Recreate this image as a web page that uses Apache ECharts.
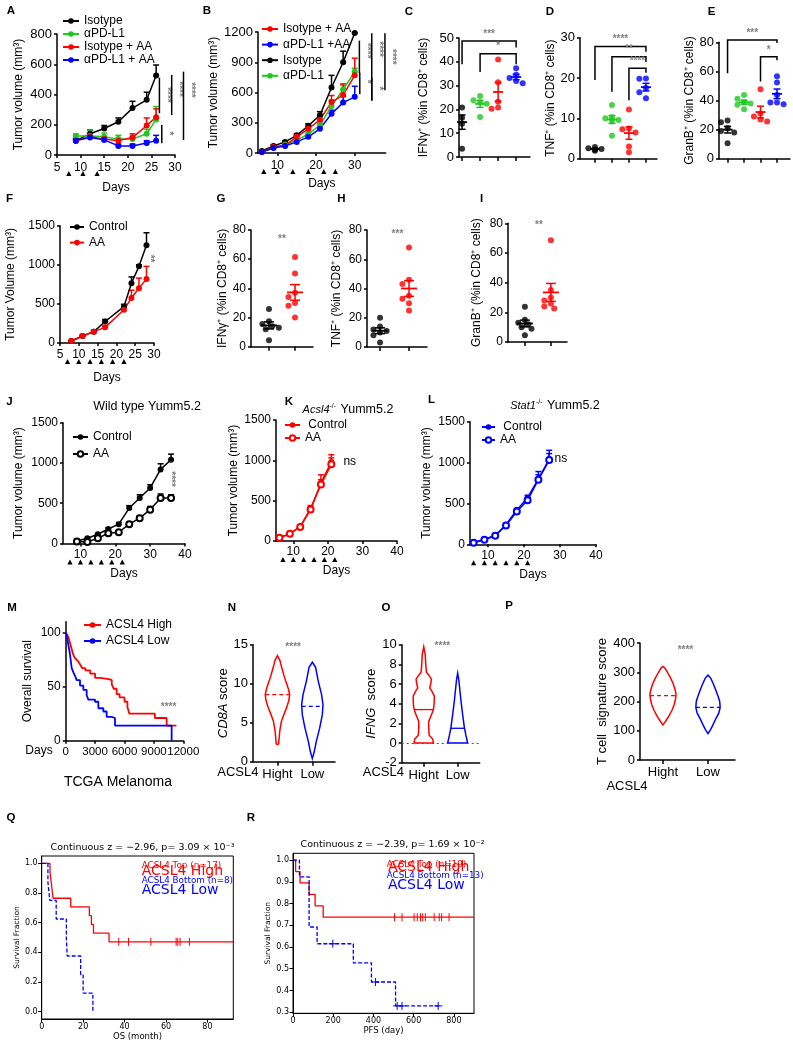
<!DOCTYPE html>
<html><head><meta charset="utf-8">
<script src="https://cdn.jsdelivr.net/npm/echarts@6.0.0/dist/echarts.min.js"></script>
<style>html,body{margin:0;padding:0;background:#fff;}#chart{width:793px;height:1050px;}</style>
</head><body><div id="chart"></div>
<script>
// ================= DATA =================
// Panel A
const aDays = [9, 12, 15, 18, 21, 24, 26];
const aIsotype = [95, 140, 175, 220, 310, 365, 525];
const aIsotypeErr = [12, 25, 20, 25, 45, 50, 70];
const aPDL1 = [125, 125, 120, 105, 105, 140, 235];
const aPDL1Err = [15, 40, 25, 25, 15, 30, 85];
const aIsoAA = [95, 120, 105, 95, 115, 195, 250];
const aIsoAAErr = [15, 15, 10, 15, 25, 50, 55];
const aPDL1AA = [95, 115, 100, 60, 60, 80, 95];
const aPDL1AAErr = [10, 10, 15, 12, 12, 15, 35];
const aTreat = [7.5, 10.5, 13.5];
const aSig = [[26.7, 276, 511, 397], [29.3, 264, 529, 436], [31.8, 99, 551, 430], [27.2, 77, 198, 143]];
const aSigLabels = ['****', '****', '****', '*'];
// Panel B
const bDays = [6, 9, 12, 15, 18, 21, 24, 27, 30];
const bIsotype = [20, 70, 110, 175, 270, 375, 650, 900, 1190];
const bIsotypeErr = [5, 10, 10, 15, 20, 35, 120, 110, 0];
const bIsoAA = [10, 60, 75, 160, 240, 330, 505, 575, 770];
const bIsoAAErr = [5, 5, 10, 15, 20, 30, 65, 110, 170];
const bPDL1AA = [10, 50, 70, 110, 160, 240, 390, 500, 557];
const bPDL1AAErr = [5, 5, 10, 10, 15, 20, 35, 60, 105];
const bPDL1 = [10, 55, 85, 125, 190, 275, 465, 630, 805];
const bPDL1Err = [5, 5, 10, 10, 15, 20, 60, 40, 35];
const bTreat = [6.5, 10, 14, 18, 22, 25];
const bSig = [[31.2, 789, 1114, 1014], [34.4, 524, 1187, 1031], [37.8, 623, 1187, 954], [31.3, 583, 795, 706], [34.4, 517, 749, 640]];
const bSigLabels = ['****', '****', '****', '*', '*'];
// Panels C, D, E (four groups: Isotype, αPD-L1, Isotype + AA, αPD-L1 + AA)
const cIFNg = [[20.8, 18.5, 16.5, 14, 3.5], [25.6, 23.8, 23, 22.4, 16.8], [41, 31.4, 23.2, 20.8, 20.3], [37.3, 34.6, 33.2, 31.9, 31]];
const cBrackets = [[1, 4, 48.7, 39, 46], [2, 4, 43.4, 35.7, 39]];
const cBracketLabels = ['***', '*'];
const dTNF = [[2.9, 2.6, 2.4, 2.2, 2.0], [13.3, 10.3, 10, 9.6, 9.5, 5.7], [12.2, 7.5, 7.3, 6.5, 3, 1.6], [19.9, 19.8, 17.5, 16.5, 15]];
const dBrackets = [[1, 4, 27.8, 19.5, 26.5], [2, 4, 25.3, 16.6, 24], [3, 4, 22.4, 14.5, 21.3]];
const dBracketLabels = ['****', '**', '****'];
const eGranB = [[26.2, 25, 21, 19, 18, 10.6], [43.7, 41.2, 39, 38, 37, 34], [47.8, 31, 29, 27, 25.5], [56.6, 52.4, 43.7, 38.6, 38.6, 37.5]];
const eBrackets = [[1, 4, 81.6, 58.8, 79.5], [3, 4, 70, 53, 67.6]];
const eBracketLabels = ['***', '*'];
// Panel F
const fDays = [8, 11, 14, 17, 22, 24, 26, 28];
const fControl = [25, 90, 145, 275, 465, 765, 980, 1250];
const fControlErr = [5, 10, 15, 25, 30, 80, 20, 160];
const fAA = [25, 90, 145, 200, 425, 575, 700, 820];
const fAAErr = [5, 10, 15, 20, 30, 100, 130, 160];
const fTreat = [7, 10, 13, 16, 19, 22];
const fSig = [[29, 1080]];
// Panels G, H, I (Control, AA)
const gIFNg = [[25.8, 17.5, 15.5, 14, 13, 12, 4.5], [61.5, 50.2, 37, 34, 30, 28, 20]];
const hTNF = [[20, 14, 12, 11, 10, 8, 3], [68, 46, 43, 35, 33, 30, 25]];
const iGranB = [[23.8, 15, 13, 12, 10, 9, 4.5], [68.5, 35, 30, 28, 26, 24, 22.5]];
// Panel J (wild type)
const jDays = [9, 12, 15, 18, 21, 24, 27, 30, 33, 36];
const jControl = [30, 65, 115, 180, 240, 440, 565, 690, 920, 1040];
const jControlErr = [5, 5, 10, 15, 20, 30, 40, 40, 70, 70];
const jAA = [25, 20, 65, 128, 140, 240, 315, 420, 565, 565];
const jAAErr = [5, 5, 10, 10, 15, 20, 30, 40, 50, 40];
const jTreat = [7, 10, 13, 16, 19, 22];
// Panel K (Acsl4-/-)
const kDays = [6, 9, 12, 15, 18, 21];
const kControl = [40, 90, 180, 400, 720, 980];
const kControlErr = [5, 10, 20, 40, 100, 90];
const kAA = [40, 90, 175, 390, 700, 950];
const kAAErr = [5, 10, 20, 30, 60, 80];
const kTreat = [7, 10, 13, 16, 19, 22];
// Panel L (Stat1-/-)
const lDays = [6, 9, 12, 15, 18, 21, 24, 27];
const lControl = [25, 60, 110, 240, 420, 570, 800, 1040];
const lControlErr = [5, 5, 10, 15, 20, 30, 90, 110];
const lAA = [20, 55, 105, 230, 400, 540, 790, 1030];
const lAAErr = [5, 5, 10, 15, 20, 30, 60, 80];
const lTreat = [6, 9, 12, 15, 18, 21];
// Panel M (TCGA KM, days, % survival)
const mHigh = [[0, 100], [150, 98], [300, 95], [450, 90], [600, 85], [750, 80], [900, 77], [1100, 75], [1300, 73], [1500, 70], [1700, 67], [2000, 65], [2500, 62], [3000, 58], [3500, 57], [4400, 56], [4700, 52], [4900, 48], [5200, 43], [5500, 40], [6000, 36], [6300, 31], [6500, 25], [8800, 25], [9100, 21], [10300, 14], [11300, 14]];
const mLow = [[0, 100], [100, 97], [200, 92], [300, 87], [400, 82], [450, 79], [612, 67], [800, 63], [950, 60], [1120, 56], [1460, 51], [1800, 47], [2140, 42], [2310, 38], [2990, 36], [3330, 30], [3840, 27], [4180, 22], [4690, 21], [5030, 14], [10810, 0]];
const mTicks = [0, 3000, 6000, 9000, 12000];
// Panels N, O, P (violin profiles: [value, half-width])
const nHigh = [[2.2, 0], [2.3, 0.034], [3.0, 0.049], [3.9, 0.066], [5.2, 0.114], [6.1, 0.19], [7.0, 0.27], [7.9, 0.33], [8.6, 0.35], [9.4, 0.31], [10.3, 0.24], [11, 0.19], [12.1, 0.12], [13, 0.07], [13.6, 0]];
const nLow = [[0.4, 0], [1.3, 0.057], [2.6, 0.114], [4.3, 0.21], [6.0, 0.286], [7.3, 0.306], [8.6, 0.266], [10.3, 0.171], [12.1, 0.094], [12.75, 0]];
const nMedians = [8.6, 7.1];
const oHigh = [[0, 0.285], [0.4, 0.265], [0.8, 0.16], [1.5, 0.147], [2.2, 0.147], [2.7, 0.206], [3.2, 0.265], [3.6, 0.294], [4.2, 0.31], [4.8, 0.31], [5.3, 0.235], [5.6, 0.176], [6.0, 0.206], [6.5, 0.226], [6.9, 0.147], [7.2, 0.08], [8, 0.059], [9, 0.044], [9.8, 0]];
const oLow = [[0, 0.294], [0.77, 0.244], [1.6, 0.197], [2.9, 0.147], [4.3, 0.097], [5.6, 0.059], [6.5, 0.03], [7.1, 0]];
const oMedians = [3.4, 1.5];
const pHigh = [[120, 0], [135, 0.07], [150, 0.13], [170, 0.2], [190, 0.25], [210, 0.28], [225, 0.29], [240, 0.27], [260, 0.23], [280, 0.17], [300, 0.1], [315, 0.04], [320, 0]];
const pLow = [[90, 0], [105, 0.06], [120, 0.11], [140, 0.17], [160, 0.24], [180, 0.27], [200, 0.26], [220, 0.22], [240, 0.17], [260, 0.12], [280, 0.06], [290, 0]];
const pMedians = [220, 180];
const violinCats = ['Hight', 'Low'];
// Panel Q (OS, months)
const qHigh = [[0, 1], [4, 0.941], [4.5, 0.882], [5, 0.824], [5.5, 0.765], [14, 0.706], [23, 0.647], [24, 0.588], [25, 0.529], [32.5, 0.471], [92.5, 0.471]];
const qHighCensor = [37.2, 41.9, 52.7, 64.9, 65.7, 66.8, 71.3];
const qLow = [[0, 1], [3, 0.875], [3.9, 0.75], [7, 0.625], [11.9, 0.5], [12.3, 0.375], [18.8, 0.25], [20, 0.125], [24.7, 0]];
// Panel R (PFS, days)
const rHigh = [[0, 1], [13, 0.947], [35, 0.895], [80, 0.842], [110, 0.789], [150, 0.737], [900, 0.737]];
const rHighCensor = [505, 542, 602, 618, 634, 645, 658, 702, 727, 739, 776];
const rLow = [[0, 1], [32, 0.923], [80, 0.692], [120, 0.615], [300, 0.527], [390, 0.439], [510, 0.329], [735, 0.329]];
const rLowCensor = [198, 410, 518, 542, 722];

// ================= HELPERS =================
const FA = '"Liberation Sans", Arial, Helvetica, sans-serif';
const FD = '"DejaVu Sans", sans-serif';
const RED = '#ff0000', BLUE = '#0000ff', GREEN = '#1ec81e', BLACK = '#000000', GREY = '#808080';
const grid = [], xAxis = [], yAxis = [], series = [], legends = [], graphics = [];

function merge(a, b) {
  for (const k in b) {
    if (b[k] && typeof b[k] === 'object' && !Array.isArray(b[k]) && a[k] && typeof a[k] === 'object' && !Array.isArray(a[k])) merge(a[k], b[k]);
    else a[k] = b[k];
  }
  return a;
}
function axisBase(fs, fam, lw) {
  return {
    type: 'value',
    axisLine: { show: true, onZero: false, lineStyle: { color: '#000', width: lw || 1.5 } },
    axisTick: { show: true, length: 3, lineStyle: { color: '#000', width: lw || 1.5 } },
    axisLabel: { show: true, color: '#000', fontFamily: fam || FA, fontSize: fs || 12, margin: 5, formatter: v => String(v) },
    splitLine: { show: false },
    nameLocation: 'middle',
    nameTextStyle: { color: '#000', fontFamily: fam || FA, fontSize: 12 }
  };
}
function addPanel(box, xa, ya, base) {
  const gi = grid.length;
  grid.push(merge({ left: box[0], top: box[1], width: box[2], height: box[3] }, (base && base.grid) || {}));
  const b = base || {};
  xAxis.push(merge(merge(axisBase(b.fs, b.fam, b.lw), { gridIndex: gi }), xa));
  yAxis.push(merge(merge(axisBase(b.fs, b.fam, b.lw), { gridIndex: gi }), ya));
  return gi;
}
function ln(x1, y1, x2, y2, color, w, dash) {
  return { type: 'line', shape: { x1, y1, x2, y2 }, style: { stroke: color, lineWidth: w || 1.5, lineDash: dash || null } };
}
function errSeries(gi, data, color, both, cap) {
  cap = cap || 3;
  return {
    type: 'custom', xAxisIndex: gi, yAxisIndex: gi, data, encode: { x: 0, y: 1 }, z: 2, silent: true, clip: false,
    renderItem: (p, api) => {
      const x = api.value(0), m = api.value(1), e = api.value(2);
      const a = api.coord([x, m]), b = api.coord([x, m + e]);
      const ch = [ln(a[0], a[1], b[0], b[1], color), ln(b[0] - cap, b[1], b[0] + cap, b[1], color)];
      if (both) { const c = api.coord([x, m - e]); ch.push(ln(a[0], a[1], c[0], c[1], color), ln(c[0] - cap, c[1], c[0] + cap, c[1], color)); }
      return { type: 'group', children: ch };
    }
  };
}
function growth(gi, days, sets) {
  sets.forEach(s => {
    series.push({
      type: 'line', name: s.name, xAxisIndex: gi, yAxisIndex: gi, silent: true,
      data: days.map((d, i) => [d, s.vals[i]]),
      symbol: s.open ? 'emptyCircle' : 'circle', symbolSize: s.size || 6, showSymbol: true,
      lineStyle: { color: s.color, width: 1.5 },
      itemStyle: { color: s.color, borderColor: s.color, borderWidth: s.open ? 1.5 : 0 }, z: 3
    });
    if (s.errs) series.push(errSeries(gi, days.map((d, i) => [d, s.vals[i], s.errs[i]]), s.color));
  });
}
function treat(gi, days) {
  series.push({
    type: 'custom', xAxisIndex: gi, yAxisIndex: gi, silent: true, clip: false, encode: { x: 0, y: 1 },
    data: days.map(d => [d, 0]),
    renderItem: (p, api) => {
      const c = api.coord([api.value(0), api.value(1)]);
      return { type: 'polygon', shape: { points: [[c[0], c[1] + 16], [c[0] - 2.6, c[1] + 21], [c[0] + 2.6, c[1] + 21]] }, style: { fill: '#000' } };
    }
  });
}
function vSig(gi, data, labels, color) {
  series.push({
    type: 'custom', xAxisIndex: gi, yAxisIndex: gi, silent: true, clip: false, encode: { x: 0, y: 1 }, data,
    renderItem: (p, api) => {
      const x = api.value(0), y1 = api.value(1), y2 = api.value(2), yl = api.value(3);
      const a = api.coord([x, y1]), b = api.coord([x, y2]), t = api.coord([x, yl]);
      return { type: 'group', children: [ln(a[0], a[1], b[0], b[1], '#000', 1.5),
        { type: 'text', x: t[0] + 7, y: t[1], rotation: -Math.PI / 2, style: { text: labels[p.dataIndex], fill: color || GREY, font: 'bold 10px ' + FA, align: 'center', verticalAlign: 'middle' } }] };
    }
  });
}
function textMark(gi, data, labels, opts) {
  series.push({
    type: 'custom', xAxisIndex: gi, yAxisIndex: gi, silent: true, clip: false, encode: { x: 0, y: 1 }, data,
    renderItem: (p, api) => {
      const c = api.coord([api.value(0), api.value(1)]);
      return { type: 'text', x: c[0], y: c[1], rotation: opts.rot || 0, style: { text: labels[p.dataIndex], fill: opts.color || GREY, font: (opts.font || 'bold 10px ') + FA, align: opts.align || 'center', verticalAlign: 'middle' } };
    }
  });
}
function hBrackets(gi, data, labels) {
  series.push({
    type: 'custom', xAxisIndex: gi, yAxisIndex: gi, silent: true, clip: false, encode: { x: 0, y: 2 }, data,
    renderItem: (p, api) => {
      const x1 = api.value(0), x2 = api.value(1), y = api.value(2), yl = api.value(3), yr = api.value(4);
      const a = api.coord([x1, yl]), b = api.coord([x1, y]), c = api.coord([x2, y]), d = api.coord([x2, yr]);
      return { type: 'group', children: [
        { type: 'polyline', shape: { points: [a, b, c, d] }, style: { stroke: '#000', lineWidth: 1.5, fill: null } },
        { type: 'text', x: (b[0] + c[0]) / 2, y: b[1] - 2, style: { text: labels[p.dataIndex], fill: GREY, font: 'bold 10px ' + FA, align: 'center', verticalAlign: 'bottom' } }] };
    }
  });
}
function swarm(vals, gx, yPx, xPx, d) {
  const placed = [];
  return vals.slice().sort((u, v) => v - u).map(v => {
    for (const k of [0, -1, 1, -2, 2, -3, 3]) {
      const ox = k * d * 0.6;
      if (placed.every(q => Math.hypot(q[0] - ox, (q[1] - v) * yPx) >= d)) { placed.push([ox, v]); return [gx + ox / xPx, v]; }
    }
    placed.push([0, v]); return [gx, v];
  });
}
function dotPlot(gi, groups, colors, box, xr, yr, meanHW, capHW) {
  const xPx = box[2] / (xr[1] - xr[0]), yPx = box[3] / (yr[1] - yr[0]);
  groups.forEach((vals, g) => {
    const gx = g + 1;
    series.push({ type: 'scatter', xAxisIndex: gi, yAxisIndex: gi, silent: true, data: swarm(vals, gx, yPx, xPx, 5.5), symbolSize: 6, itemStyle: { color: colors[g] }, z: 3 });
    const n = vals.length, mean = vals.reduce((s, v) => s + v, 0) / n;
    const sd = Math.sqrt(vals.reduce((s, v) => s + (v - mean) * (v - mean), 0) / (n - 1));
    const sem = sd / Math.sqrt(n);
    series.push({
      type: 'custom', xAxisIndex: gi, yAxisIndex: gi, silent: true, clip: false, encode: { x: 0, y: 1 }, data: [[gx, mean, sem]], z: 4,
      renderItem: (p, api) => {
        const m = api.coord([api.value(0), api.value(1)]), s = api.value(2);
        const hi = api.coord([api.value(0), api.value(1) + s]), lo = api.coord([api.value(0), api.value(1) - s]);
        const col = colors[g];
        return { type: 'group', children: [ln(m[0] - meanHW, m[1], m[0] + meanHW, m[1], col, 1.8), ln(hi[0], hi[1], lo[0], lo[1], col, 1.5),
          ln(hi[0] - capHW, hi[1], hi[0] + capHW, hi[1], col, 1.5), ln(lo[0] - capHW, lo[1], lo[0] + capHW, lo[1], col, 1.5)] };
      }
    });
  });
}
function interpW(profile, v) {
  for (let i = 1; i < profile.length; i++) {
    const [v0, w0] = profile[i - 1], [v1, w1] = profile[i];
    if (v >= v0 && v <= v1) return w0 + (w1 - w0) * (v - v0) / (v1 - v0);
  }
  return 0;
}
function violin(gi, gx, profile, color, median, dashed) {
  series.push({
    type: 'custom', xAxisIndex: gi, yAxisIndex: gi, silent: true, clip: false, encode: { x: 0, y: 1 }, data: [[gx, median]],
    renderItem: (p, api) => {
      const right = profile.map(([v, w]) => api.coord([gx + w, v]));
      const left = profile.slice().reverse().map(([v, w]) => api.coord([gx - w, v]));
      const wm = interpW(profile, median);
      const a = api.coord([gx - wm, median]), b = api.coord([gx + wm, median]);
      return { type: 'group', children: [
        { type: 'polygon', shape: { points: right.concat(left) }, style: { fill: 'none', stroke: color, lineWidth: 1.5 } },
        ln(a[0], a[1], b[0], b[1], color, 1.3, dashed ? [4, 3] : null)] };
    }
  });
}
function stepAt(steps, t) { let v = steps[0][1]; for (const [tt, vv] of steps) { if (tt <= t) v = vv; } return v; }
function km(gi, name, steps, color, dashed, w) {
  series.push({ type: 'line', name, xAxisIndex: gi, yAxisIndex: gi, silent: true, step: 'end', data: steps, symbol: 'none', showSymbol: false,
    lineStyle: { color, width: w || 1.5, type: dashed ? [4, 2] : 'solid' }, itemStyle: { color }, z: 3 });
}
function censor(gi, times, steps, color, plus, len) {
  series.push({
    type: 'custom', xAxisIndex: gi, yAxisIndex: gi, silent: true, clip: false, encode: { x: 0, y: 1 }, z: 4,
    data: times.map(t => [t, stepAt(steps, t)]),
    renderItem: (p, api) => {
      const c = api.coord([api.value(0), api.value(1)]);
      const ch = [ln(c[0], c[1] - len, c[0], c[1] + len, color, 1)];
      if (plus) ch.push(ln(c[0] - len, c[1], c[0] + len, c[1], color, 1));
      return { type: 'group', children: ch };
    }
  });
}
function addLegend(left, top, names, gap, iw) {
  legends.push({ show: true, orient: 'vertical', left, top, padding: 0, itemGap: gap, itemWidth: iw || 16, itemHeight: 7, data: names, selectedMode: false,
    textStyle: { fontSize: 12, fontFamily: FA, color: '#000' }, formatter: n => n.replace(/\u200b/g, '') });
}
function txt(t, x, y, o) {
  o = o || {};
  const st = { text: t, fill: o.color || '#000', fontFamily: o.fam || FA, fontSize: o.fs || 12, fontWeight: o.bold ? 'bold' : 'normal', align: o.align || 'center', verticalAlign: o.va || 'middle' };
  if (o.rich) st.rich = o.rich;
  graphics.push({ type: 'text', x, y, rotation: o.rot || 0, silent: true, style: st });
}

// ================= PANELS =================
const VOL = 'Tumor volume (mm³)';
// A
const gA = addPanel([57, 34, 118, 121],
  { min: 5, max: 30, interval: 5, name: 'Days', nameGap: 27, axisLabel: { fontSize: 12, margin: 7 } },
  { min: 0, max: 800, interval: 200, name: VOL, nameGap: 32, axisLabel: { fontSize: 13 } });
growth(gA, aDays, [
  { name: 'Isotype', vals: aIsotype, errs: aIsotypeErr, color: BLACK },
  { name: 'αPD-L1', vals: aPDL1, errs: aPDL1Err, color: GREEN },
  { name: 'Isotype + AA', vals: aIsoAA, errs: aIsoAAErr, color: RED },
  { name: 'αPD-L1 + AA', vals: aPDL1AA, errs: aPDL1AAErr, color: BLUE }]);
treat(gA, aTreat);
vSig(gA, aSig, aSigLabels);
addLegend(62, 15, ['Isotype', 'αPD-L1', 'Isotype + AA', 'αPD-L1 + AA'], 1);

// B
const gB = addPanel([258, 32, 127.7, 121],
  { min: 5, max: 38, name: 'Days', nameGap: 25, axisTick: { customValues: [10, 20, 30] }, axisLabel: { customValues: [10, 20, 30], fontSize: 12, margin: 7 } },
  { min: 0, max: 1200, interval: 300, name: VOL, nameGap: 31, axisLabel: { fontSize: 13 } });
growth(gB, bDays, [
  { name: 'Isotype\u200b', vals: bIsotype, errs: bIsotypeErr, color: BLACK },
  { name: 'αPD-L1\u200b', vals: bPDL1, errs: bPDL1Err, color: GREEN },
  { name: 'Isotype + AA\u200b', vals: bIsoAA, errs: bIsoAAErr, color: RED },
  { name: 'αPD-L1 +AA', vals: bPDL1AA, errs: bPDL1AAErr, color: BLUE }]);
treat(gB, bTreat);
vSig(gB, bSig, bSigLabels);
addLegend(261, 23, ['Isotype + AA\u200b', 'αPD-L1 +AA', 'Isotype\u200b', 'αPD-L1\u200b'], 3.6);

// C, D, E
const cols4 = [BLACK, GREEN, RED, BLUE];
const boxC = [459, 38, 71, 119], xrC = [0.83, 4.77];
const gC = addPanel(boxC, { min: xrC[0], max: xrC[1], axisTick: { customValues: [1, 2, 3, 4], length: 4 }, axisLabel: { show: false } },
  { min: 0, max: 50, interval: 10, name: 'IFNγ⁺ (%in CD8⁺ cells)', nameGap: 29, axisLabel: { fontSize: 13 } });
dotPlot(gC, cIFNg, cols4, boxC, xrC, [0, 50], 5, 3.5);
hBrackets(gC, cBrackets, cBracketLabels);
const boxD = [580, 37.7, 77, 121], xrD = [0.12, 4.65];
const gD = addPanel(boxD, { min: xrD[0], max: xrD[1], axisTick: { customValues: [1, 2, 3, 4], length: 4 }, axisLabel: { show: false } },
  { min: 0, max: 30, interval: 10, name: 'TNF⁺ (%in CD8⁺ cells)', nameGap: 17, axisLabel: { fontSize: 13 } });
dotPlot(gD, dTNF, cols4, boxD, xrD, [0, 30], 5, 3.5);
hBrackets(gD, dBrackets, dBracketLabels);
const boxE = [719, 42.3, 71, 116.4], xrE = [0.48, 4.79];
const gE = addPanel(boxE, { min: xrE[0], max: xrE[1], axisTick: { customValues: [1, 2, 3, 4], length: 4 }, axisLabel: { show: false } },
  { min: 0, max: 80, interval: 20, name: 'GranB⁺ (%in CD8⁺ cells)', nameGap: 22, axisLabel: { fontSize: 13 } });
dotPlot(gE, eGranB, cols4, boxE, xrE, [0, 80], 5, 3.5);
hBrackets(gE, eBrackets, eBracketLabels);

// F
const gF = addPanel([60, 225.7, 94, 117.3],
  { min: 5, max: 30, interval: 5, name: 'Days', nameGap: 29, axisLabel: { margin: 6 } },
  { min: 0, max: 1500, interval: 500, name: 'Tumor Volume (mm³)', nameGap: 43 });
growth(gF, fDays, [
  { name: 'Control', vals: fControl, errs: fControlErr, color: BLACK },
  { name: 'AA', vals: fAA, errs: fAAErr, color: RED }]);
treat(gF, fTreat);
textMark(gF, fSig, ['**'], { rot: -Math.PI / 2 });
addLegend(69, 221, ['Control', 'AA'], 3.6, 14);

// G, H, I
const cols2 = [BLACK, RED];
const boxG = [251, 230, 62, 116.7], xrG = [0.31, 2.69];
const gG = addPanel(boxG, { min: xrG[0], max: xrG[1], axisTick: { customValues: [1, 2], length: 4 }, axisLabel: { show: false } },
  { min: 0, max: 80, interval: 20, name: 'IFNγ⁺ (%in CD8⁺ cells)', nameGap: 20, axisLabel: { fontSize: 12 } });
dotPlot(gG, gIFNg, cols2, boxG, xrG, [0, 80], 8, 5);
textMark(gG, [[1.5, 74]], ['**'], {});
const boxH = [367, 230, 60, 117], xrH = [0.55, 2.62];
const gH = addPanel(boxH, { min: xrH[0], max: xrH[1], axisTick: { customValues: [1, 2], length: 4 }, axisLabel: { show: false } },
  { min: 0, max: 80, interval: 20, name: 'TNF⁺ (%in CD8⁺ cells)', nameGap: 24, axisLabel: { fontSize: 12 } });
dotPlot(gH, hTNF, cols2, boxH, xrH, [0, 80], 8, 5);
textMark(gH, [[1.6, 77]], ['***'], {});
const boxI = [508, 223.3, 59, 118.7], xrI = [0.35, 2.62];
const gI = addPanel(boxI, { min: xrI[0], max: xrI[1], axisTick: { customValues: [1, 2], length: 4 }, axisLabel: { show: false } },
  { min: 0, max: 80, interval: 20, name: 'GranB⁺ (%in CD8⁺ cells)', nameGap: 25, axisLabel: { fontSize: 12 } });
dotPlot(gI, iGranB, cols2, boxI, xrI, [0, 80], 8, 5);
textMark(gI, [[1.54, 79]], ['**'], {});

// J, K, L
const dayTicks = [10, 20, 30, 40];
function jklPanel(box, nameGap) {
  return addPanel(box,
    { min: 5, max: 40, name: 'Days', nameGap: 24, axisTick: { customValues: dayTicks }, axisLabel: { customValues: dayTicks, margin: 5 } },
    { min: 0, max: 1500, interval: 500, name: VOL, nameGap });
}
const gJ = jklPanel([63, 422.7, 122, 120.8], 38);
growth(gJ, jDays, [
  { name: 'Control\u200b', vals: jControl, errs: jControlErr, color: BLACK },
  { name: 'AA\u200b', vals: jAA, errs: jAAErr, color: BLACK, open: true }]);
treat(gJ, jTreat);
textMark(gJ, [[36, 800]], ['****'], { rot: -Math.PI / 2 });
addLegend(72, 431, ['Control\u200b', 'AA\u200b'], 5, 15);
const gK = jklPanel([276, 420, 121, 121], 36);
growth(gK, kDays, [
  { name: ' Control', vals: kControl, errs: kControlErr, color: RED },
  { name: 'AA\u200b\u200b', vals: kAA, errs: kAAErr, color: RED, open: true }]);
treat(gK, kTreat);
textMark(gK, [[24.5, 985]], ['ns'], { font: '12px ', color: '#000', align: 'left' });
addLegend(284, 419, [' Control', 'AA\u200b\u200b'], 1, 15);
const gL = jklPanel([470, 421.7, 126, 122.6], 37);
growth(gL, lDays, [
  { name: ' Control\u200b', vals: lControl, errs: lControlErr, color: BLUE },
  { name: 'AA\u200b\u200b\u200b', vals: lAA, errs: lAAErr, color: BLUE, open: true }]);
treat(gL, lTreat);
textMark(gL, [[28.5, 1050]], ['ns'], { font: '12px ', color: '#000', align: 'left' });
addLegend(481, 421, [' Control\u200b', 'AA\u200b\u200b\u200b'], 1, 13);

// M
const gM = addPanel([65.7, 621.7, 117.6, 119],
  { min: 0, max: 12000, axisTick: { customValues: mTicks }, axisLabel: { customValues: mTicks, fontSize: 11.5, margin: 5, hideOverlap: false } },
  { min: 0, max: 110, name: 'Overall survival', nameGap: 32, axisTick: { customValues: [0, 50, 100] }, axisLabel: { customValues: [0, 50, 100], fontSize: 12 } });
km(gM, 'ACSL4 High', mHigh, RED, false, 1.8);
km(gM, 'ACSL4 Low', mLow, BLUE, false, 1.8);
textMark(gM, [[10500, 31]], ['****'], {});
addLegend(83, 619, ['ACSL4 High', 'ACSL4 Low'], 4, 17);

// N, O, P
function violinPanel(box, xr, yax) {
  return addPanel(box,
    { min: xr[0], max: xr[1], axisTick: { customValues: [1, 2], length: 4 }, axisLabel: { customValues: [1, 2], fontSize: 13, margin: 6, formatter: v => violinCats[Math.round(v) - 1] || '' } },
    yax);
}
const italicRich = { i: { fontStyle: 'italic', fontSize: 13, fontFamily: FA, color: '#000' } };
const gN = violinPanel([253, 644.7, 82, 117], [0.3, 2.65],
  { min: 0, max: 15, interval: 5, name: '{i|CD8A} score', nameGap: 20, axisLabel: { fontSize: 13 }, nameTextStyle: { fontSize: 13, rich: italicRich } });
violin(gN, 1, nHigh, RED, nMedians[0], true);
violin(gN, 2, nLow, BLUE, nMedians[1], true);
textMark(gN, [[1.45, 14.7]], ['****'], {});
const gO = violinPanel([401.7, 644.7, 78, 118], [0.35, 2.65],
  { min: -2, max: 10, interval: 2, name: '{i|IFNG}  score', nameGap: 17, axisLabel: { fontSize: 13 }, nameTextStyle: { fontSize: 13, rich: italicRich } });
violin(gO, 1, oHigh, RED, oMedians[0], false);
violin(gO, 2, oLow, BLUE, oMedians[1], false);
series[series.length - 1].markLine = { silent: true, symbol: 'none', label: { show: false }, lineStyle: { color: '#555', type: [2, 3], width: 1.2 }, data: [{ yAxis: 0 }] };
textMark(gO, [[1.55, 9.85]], ['****'], {});
const gP = violinPanel([640, 643, 95, 117], [0.49, 2.6],
  { min: 0, max: 400, interval: 100, name: 'T cell  signature score', nameGap: 22, axisLabel: { fontSize: 13 }, nameTextStyle: { fontSize: 13 } });
violin(gP, 1, pHigh, RED, pMedians[0], true);
violin(gP, 2, pLow, BLUE, pMedians[1], true);
textMark(gP, [[1.5, 375]], ['****'], {});

// Q, R (matplotlib style)
const mpl = { fs: 8, fam: FD, lw: 1, grid: { show: true, borderColor: '#000', borderWidth: 1, backgroundColor: 'transparent' } };
const qYT = [0, 0.2, 0.4, 0.6, 0.8, 1.0];
const gQ = addPanel([41.7, 856, 191.6, 163],
  { min: 0, max: 92.5, name: 'OS (month)', nameGap: 13, nameTextStyle: { fontFamily: FD, fontSize: 8.5 }, axisTick: { customValues: [0, 20, 40, 60, 80], length: 3.5 }, axisLabel: { customValues: [0, 20, 40, 60, 80], margin: 4 } },
  { min: -0.05, max: 1.05, name: 'Survival Fraction', nameGap: 20, nameTextStyle: { fontFamily: FD, fontSize: 7.5 }, axisTick: { customValues: qYT, length: 3.5 }, axisLabel: { customValues: qYT, margin: 4, formatter: v => v.toFixed(1) } }, mpl);
km(gQ, 'q-top', qHigh, RED, false, 1.3);
km(gQ, 'q-bottom', qLow, BLUE, true, 1.3);
censor(gQ, qHighCensor, qHigh, RED, false, 4);
const rYT = [0.3, 0.4, 0.5, 0.6, 0.7, 0.8, 0.9, 1.0];
const gR = addPanel([293, 853.3, 181, 160],
  { min: 0, max: 900, name: 'PFS (day)', nameGap: 13, nameTextStyle: { fontFamily: FD, fontSize: 8.5 }, axisTick: { customValues: [0, 200, 400, 600, 800], length: 3.5 }, axisLabel: { customValues: [0, 200, 400, 600, 800], margin: 4 } },
  { min: 0.295, max: 1.031, name: 'Survival Fraction', nameGap: 21, nameTextStyle: { fontFamily: FD, fontSize: 7.5 }, axisTick: { customValues: rYT, length: 3.5 }, axisLabel: { customValues: rYT, margin: 4, formatter: v => v.toFixed(1) } }, mpl);
km(gR, 'r-top', rHigh, RED, false, 1.3);
km(gR, 'r-bottom', rLow, BLUE, true, 1.3);
censor(gR, rHighCensor, rHigh, RED, false, 4);
censor(gR, rLowCensor, rLow, BLUE, true, 4);

// ================= TEXT =================
[['A', 11, 10.5], ['B', 207, 10.5], ['C', 409, 11.5], ['D', 550, 11.5], ['E', 711.5, 11.5], ['F', 9.5, 198.5], ['G', 221, 198.5], ['H', 341.5, 198.5], ['I', 481.5, 198.5],
 ['J', 9.5, 401.5], ['K', 289, 401.5], ['L', 431.5, 400], ['M', 12, 607.5], ['N', 232, 607.5], ['O', 386, 607.5], ['P', 509, 606], ['Q', 11, 818], ['R', 251, 818]]
  .forEach(([t, x, y]) => txt(t, x, y, { bold: true, fs: 11.5 }));
txt('Wild type Yumm5.2', 147, 407, { fs: 12.5 });
txt('{i|Acsl4}{s|-/-} Yumm5.2', 348, 410, { fs: 12.5, rich: { i: { fontStyle: 'italic', fontSize: 11, fontFamily: FA }, s: { fontSize: 7, fontFamily: FA, padding: [0, 1, 7, 0] } } });
txt('{i|Stat1}{s|-/-} Yumm5.2', 555, 406, { fs: 12.5, rich: { i: { fontStyle: 'italic', fontSize: 11, fontFamily: FA }, s: { fontSize: 7, fontFamily: FA, padding: [0, 1, 7, 0] } } });
txt('Days', 39, 751, { fs: 12 });
txt('TCGA Melanoma', 118, 782, { fs: 14 });
txt('ACSL4', 258.5, 772, { fs: 13, align: 'right' });
txt('ACSL4', 404, 772, { fs: 13, align: 'right' });
txt('ACSL4', 627, 786, { fs: 13 });
txt('Continuous z = −2.96, p= 3.09 × 10⁻³', 142.5, 848, { fam: FD, fs: 9.5 });
txt('Continuous z = −2.39, p= 1.69 × 10⁻²', 392.5, 845, { fam: FD, fs: 9.5 });
txt('ACSL4 Top (n=17)', 141.7, 866, { fam: FD, fs: 8.8, color: RED, align: 'left' });
txt('ACSL4 High', 141.7, 871.5, { fam: FD, fs: 14, color: RED, align: 'left' });
txt('ACSL4 Bottom (n=8)', 141.7, 881, { fam: FD, fs: 8.8, color: BLUE, align: 'left' });
txt('ACSL4 Low', 141.7, 890, { fam: FD, fs: 14, color: BLUE, align: 'left' });
txt('ACSL4 Top (n=19)', 386.7, 864.5, { fam: FD, fs: 8.8, color: RED, align: 'left' });
txt('ACSL4 High', 388, 867, { fam: FD, fs: 14, color: RED, align: 'left' });
txt('ACSL4 Bottom (n=13)', 386.7, 875.5, { fam: FD, fs: 8.8, color: BLUE, align: 'left' });
txt('ACSL4 Low', 388, 885, { fam: FD, fs: 14, color: BLUE, align: 'left' });

const chart = echarts.init(document.getElementById('chart'), null, { renderer: 'canvas' });
chart.setOption({ animation: false, backgroundColor: '#fff', textStyle: { fontFamily: FA }, grid, xAxis, yAxis, series, legend: legends, graphic: { elements: graphics } });
</script></body></html>
